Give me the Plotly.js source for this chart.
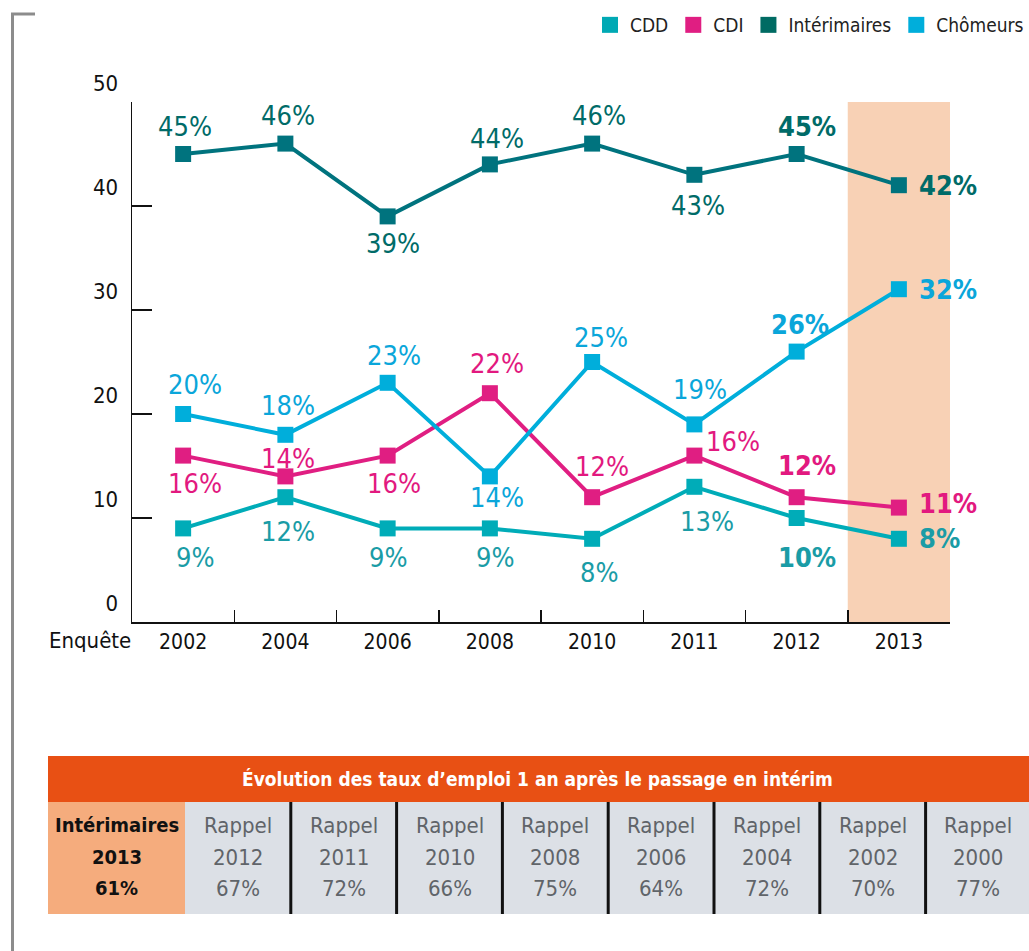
<!DOCTYPE html>
<html>
<head>
<meta charset="utf-8">
<script src="https://cdn.plot.ly/plotly-3.0.1.min.js"></script>
<style>
  html, body { margin: 0; padding: 0; background: #ffffff; }
  #chart { width: 1029px; height: 951px; }
</style>
</head>
<body>
<div id="chart"></div>
<script>
// ---------- DATA ----------
const categories = ['2002', '2004', '2006', '2008', '2010', '2011', '2012', '2013'];
const cdd = [9, 12, 9, 9, 8, 13, 10, 8];
const cdi = [16, 14, 16, 22, 12, 16, 12, 11];
const interimaires = [45, 46, 39, 44, 46, 43, 45, 42];
const chomeurs = [20, 18, 23, 14, 25, 19, 26, 32];
const yTicks = [0, 10, 20, 30, 40, 50];
const seriesNames = ['CDD', 'CDI', 'Intérimaires', 'Chômeurs'];
const xAxisLabel = 'Enquête';
const highlightedCategory = '2013';

const tableTitle = 'Évolution des taux d’emploi 1 an après le passage en intérim';
const currentLabel = ['Intérimaires', '2013', '61%'];
const rappelWord = 'Rappel';
const rappelYears = ['2012', '2011', '2010', '2008', '2006', '2004', '2002', '2000'];
const rappelRates = [67, 72, 66, 75, 64, 72, 70, 77];

// ---------- STYLES / PLACEMENT ----------
const FONT = '"Liberation Sans Narrow", "DejaVu Sans Condensed", Roboto, sans-serif';
const lineColors = ['#00ACB8', '#E01E82', '#00737E', '#00AEDB'];
const textColors = ['#1A9CA6', '#E2197F', '#006B68', '#0AA6DA'];
const legendColors = ['#00A9B4', '#E01E82', '#006B63', '#00AEDB'];
// label offsets (dx, dy in px from the point, dy positive = downward)
const labelOffsets = [
  [[12, 29], [3, 34], [1, 29], [6, 29], [7, 34], [13, 35], [10, 39], [18, 0]],
  [[12, 28], [3, -18], [6, 28], [7, -30], [10, -31], [39, -14], [10, -32], [18, -4]],
  [[2, -28], [3, -28], [5, 27], [7, -26], [7, -28], [4, 31], [10, -28], [18, 0]],
  [[12, -30], [3, -29], [6, -27], [7, 21], [9, -25], [6, -35], [3, -27], [18, 0]]
];

// plot area in pixels
const L = 132, R = 950, T = 102, B = 622, W = 1029, H = 951;
const px = v => (v - L) / (R - L);
const py = v => (B - v) / (B - T);

const seriesValues = [cdd, cdi, interimaires, chomeurs];

const traces = [];
seriesValues.forEach((vals, s) => {
  traces.push({
    type: 'scatter', mode: 'lines+markers',
    x: categories, y: vals, name: seriesNames[s], showlegend: false,
    line: { color: lineColors[s], width: 4 },
    marker: { symbol: 'square', size: 16, color: lineColors[s] },
    hoverinfo: 'x+y+name'
  });
});
// legend entries
seriesNames.forEach((n, s) => {
  traces.push({
    type: 'scatter', mode: 'markers', x: [null], y: [null], name: n,
    marker: { symbol: 'square', size: 16, color: legendColors[s] }, showlegend: true
  });
});

const annotations = [];
seriesValues.forEach((vals, s) => {
  vals.forEach((v, i) => {
    const off = labelOffsets[s][i];
    const bold = i >= categories.length - 2;
    const last = i === categories.length - 1;
    annotations.push({
      x: i, y: v, xref: 'x', yref: 'y',
      text: bold ? '<b>' + v + '%</b>' : v + '%',
      showarrow: false,
      xanchor: last ? 'left' : 'center', yanchor: 'middle',
      xshift: off[0], yshift: -off[1],
      font: { family: FONT, size: 27, color: textColors[s] }
    });
  });
});
// x axis caption
annotations.push({
  xref: 'paper', yref: 'paper', x: px(133), y: py(640), xanchor: 'right', yanchor: 'middle',
  text: xAxisLabel, showarrow: false, font: { family: FONT, size: 22, color: '#111' }
});

const shapes = [];
// highlighted band
const hi = categories.indexOf(highlightedCategory);
shapes.push({
  type: 'rect', xref: 'x', yref: 'y', layer: 'below',
  x0: hi - 0.5, x1: hi + 0.5, y0: 0, y1: 50, fillcolor: '#F8D1B5', line: { width: 0 }
});
// left frame
shapes.push({ type: 'line', xref: 'paper', yref: 'paper', x0: px(12.5), x1: px(12.5), y0: py(13), y1: py(951),
  line: { color: '#8C8C8C', width: 3 } });
shapes.push({ type: 'line', xref: 'paper', yref: 'paper', x0: px(11), x1: px(35), y0: py(14), y1: py(14),
  line: { color: '#8C8C8C', width: 3 } });

// ---------- TABLE ----------
const tY0 = 756, tY1 = 802, tY2 = 914;
const tX0 = 48, tX1 = 185, tXEnd = 1029;
shapes.push({ type: 'rect', xref: 'paper', yref: 'paper', x0: px(tX0), x1: px(tXEnd), y0: py(tY0), y1: py(tY1),
  fillcolor: '#E85014', line: { width: 0 } });
shapes.push({ type: 'rect', xref: 'paper', yref: 'paper', x0: px(tX0), x1: px(tX1), y0: py(tY1), y1: py(tY2),
  fillcolor: '#F5AC7D', line: { width: 0 } });
shapes.push({ type: 'rect', xref: 'paper', yref: 'paper', x0: px(tX1), x1: px(tXEnd), y0: py(tY1), y1: py(tY2),
  fillcolor: '#DCE0E6', line: { width: 0 } });
const cellW = 105.8;
for (let k = 1; k < rappelYears.length; k++) {
  const xs = tX1 + k * cellW;
  shapes.push({ type: 'line', xref: 'paper', yref: 'paper', x0: px(xs), x1: px(xs), y0: py(tY1), y1: py(tY2),
    line: { color: '#111', width: 3 } });
}
annotations.push({
  xref: 'paper', yref: 'paper', x: px(537), y: py(779), xanchor: 'center', yanchor: 'middle',
  text: '<b>' + tableTitle + '</b>', showarrow: false, font: { family: FONT, size: 19, color: '#ffffff' }
});
const rowY = [825, 857, 888];
currentLabel.forEach((t, r) => {
  annotations.push({
    xref: 'paper', yref: 'paper', x: px((tX0 + tX1) / 2), y: py(rowY[r]), xanchor: 'center', yanchor: 'middle',
    text: '<b>' + t + '</b>', showarrow: false, font: { family: FONT, size: 20, color: '#111' }
  });
});
rappelYears.forEach((yr, k) => {
  const cx = tX1 + (k + 0.5) * cellW;
  [rappelWord, yr, rappelRates[k] + '%'].forEach((t, r) => {
    annotations.push({
      xref: 'paper', yref: 'paper', x: px(cx), y: py(rowY[r]), xanchor: 'center', yanchor: 'middle',
      text: t, showarrow: false, font: { family: FONT, size: 22, color: '#606469' }
    });
  });
});

const layout = {
  width: W, height: H,
  margin: { l: L, r: W - R, t: T, b: H - B, autoexpand: false },
  paper_bgcolor: '#ffffff', plot_bgcolor: 'rgba(0,0,0,0)',
  font: { family: FONT, color: '#111' },
  showlegend: true,
  legend: {
    orientation: 'h', x: px(1029), xanchor: 'right', y: py(25), yanchor: 'middle',
    font: { family: FONT, size: 19, color: '#222' }, bgcolor: 'rgba(0,0,0,0)',
    itemclick: false, itemdoubleclick: false
  },
  xaxis: {
    type: 'category', categoryorder: 'array', categoryarray: categories,
    range: [-0.5, categories.length - 0.5], fixedrange: true,
    tickson: 'boundaries', ticks: 'inside', ticklen: 12, tickwidth: 1.5, tickcolor: '#111',
    showline: true, linecolor: '#111', linewidth: 2, showgrid: false, zeroline: false,
    tickfont: { family: FONT, size: 21, color: '#111' }, ticklabelstandoff: 0, automargin: false
  },
  yaxis: {
    range: [0, 50], tickvals: yTicks, ticktext: yTicks.map(String), fixedrange: true,
    ticks: 'inside', ticklen: 20, tickwidth: 1.2, tickcolor: '#111',
    showline: true, linecolor: '#111', linewidth: 1.5, showgrid: false, zeroline: false,
    tickfont: { family: FONT, size: 22, color: '#111' },
    ticklabelshift: -19, ticklabelstandoff: 8, automargin: false
  },
  shapes: shapes,
  annotations: annotations
};

Plotly.newPlot('chart', traces, layout, { displayModeBar: false, staticPlot: true });
</script>
</body>
</html>
